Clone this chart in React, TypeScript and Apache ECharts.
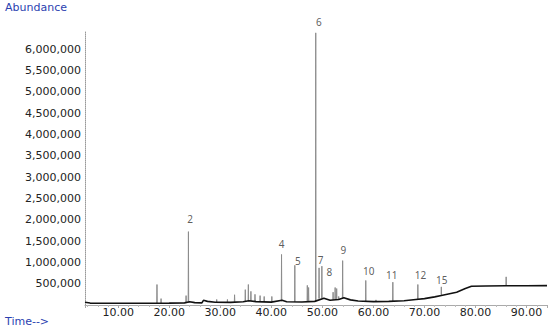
import React, { useEffect, useRef } from "react";
import * as echarts from "echarts";

// Baseline of the chromatogram: [retention time (min), abundance]
const baselinePoints: [number, number][] = [
  [3.5, 65000], [4.5, 45000], [8, 40000], [12, 40000], [16, 42000], [20, 45000],
  [23, 50000], [24.0, 75000], [25, 55000], [26.4, 50000], [26.7, 110000],
  [27.5, 85000], [29, 65000], [32, 62000], [34.5, 75000], [35.6, 100000],
  [37, 80000], [40, 68000], [42.1, 110000], [43, 75000], [46, 70000],
  [48.5, 85000], [50.3, 160000], [51.5, 110000], [53.2, 130000], [54.2, 170000],
  [55.5, 120000], [57, 95000], [60, 80000], [63, 85000], [66, 100000],
  [68.3, 129000], [70, 150000], [72, 190000], [73.3, 223000], [76.3, 300000],
  [78, 385000], [79.2, 441000], [82, 445000], [86, 450000], [90, 452000], [94, 455000],
];

// Peaks: [retention time (min), apex abundance, foot abundance]
const peaks: [number, number, number][] = [
  [17.6, 480000, 42000], [18.4, 150000, 42000], [23.3, 220000, 50000],
  [23.76, 1720000, 55000], [29.3, 130000, 65000], [31.4, 130000, 62000],
  [32.8, 240000, 65000], [34.9, 360000, 75000], [35.5, 480000, 90000],
  [36.0, 320000, 95000], [36.8, 250000, 85000], [37.8, 220000, 80000],
  [38.6, 200000, 75000], [40.1, 200000, 68000], [42.0, 1185000, 90000],
  [44.6, 930000, 72000], [47.05, 460000, 78000], [47.3, 410000, 78000],
  [48.7, 6380000, 85000], [49.35, 870000, 150000], [49.9, 910000, 160000],
  [52.1, 300000, 120000], [52.5, 410000, 125000], [52.8, 385000, 128000],
  [53.2, 200000, 130000], [53.97, 1040000, 160000], [58.5, 575000, 85000],
  [60.5, 120000, 80000], [63.8, 535000, 88000], [68.7, 480000, 132000],
  [73.3, 425000, 223000], [86.0, 660000, 450000],
];

// Peak number labels: [text, time, abundance at the label's centre]
const peakLabels: [string, number, number][] = [
  ["2", 24.1, 2007000], ["4", 42.0, 1437000], ["5", 45.2, 1037000],
  ["6", 49.3, 6640000], ["7", 49.65, 1052000], ["8", 51.35, 779000],
  ["9", 54.1, 1286000], ["10", 59.1, 793000], ["11", 63.6, 692000],
  ["12", 69.2, 700000], ["15", 73.4, 592000],
];

const FOOT = 0.05;

export default function App() {
  const ref = useRef<HTMLDivElement>(null);
  useEffect(() => {
    if (!ref.current) return;
    const chart = echarts.init(ref.current, undefined, { renderer: "svg" });
    const peakData: any[] = [];
    peaks.forEach(([t, apex, foot]) => {
      peakData.push([t - FOOT, foot], [t, apex], [t + FOOT, foot], [t + FOOT, "-"]);
    });
    const blue = "#2b3fb0";
    chart.setOption({
      animation: false,
      grid: { left: 85, right: 3, top: 32, bottom: 24 },
      xAxis: {
        type: "value",
        min: 3.5,
        max: 94,
        splitNumber: 9,
        axisLine: { lineStyle: { color: "#aaaaaa", width: 1 } },
        axisTick: { show: true, length: 3, lineStyle: { color: "#aaaaaa" } },
        minorTick: { show: true, splitNumber: 5, length: 2, lineStyle: { color: "#bbbbbb" } },
        splitLine: { show: false },
        axisLabel: {
          margin: 2,
          fontFamily: "DejaVu Sans",
          fontSize: 11,
          color: "#222",
          showMinLabel: false,
          showMaxLabel: false,
          formatter: (v: number) => (Math.abs(v % 10) < 1e-6 ? v.toFixed(2) : ""),
        },
      },
      yAxis: {
        type: "value",
        min: 0,
        max: 6400000,
        interval: 500000,
        axisLine: { show: true, lineStyle: { color: "#999999", type: "dotted", width: 1 } },
        axisTick: { show: false },
        splitLine: { show: false },
        axisLabel: {
          margin: 4,
          fontFamily: "DejaVu Sans",
          fontSize: 11,
          color: "#222",
          formatter: (v: number) =>
            v === 0 || v % 500000 !== 0 ? "" : v.toLocaleString("en-US"),
        },
      },
      graphic: [
        {
          type: "text",
          left: 5,
          top: 2,
          style: { text: "Abundance", fill: blue, font: "11px 'DejaVu Sans'" },
        },
        {
          type: "text",
          left: 5,
          top: 316,
          style: { text: "Time-->", fill: blue, font: "11px 'DejaVu Sans'" },
        },
      ],
      series: [
        {
          type: "line",
          data: peakData,
          symbol: "none",
          connectNulls: false,
          lineStyle: { color: "#8c8c8c", width: 1 },
          z: 2,
        },
        {
          type: "line",
          data: baselinePoints,
          symbol: "none",
          lineStyle: { color: "#111", width: 1.6 },
          z: 3,
        },
        {
          type: "scatter",
          data: peakLabels.map(([n, t, v]) => ({ value: [t, v], name: n })),
          symbolSize: 0,
          clip: false,
          itemStyle: { color: "#333" },
          label: {
            show: true,
            position: "inside",
            formatter: (p: any) => p.name,
            fontFamily: "Noto Sans",
            fontSize: 10,
            color: "#333",
            textBorderWidth: 0,
          },
          z: 4,
        },
      ],
    });
    return () => chart.dispose();
  }, []);
  return (
    <div
      ref={ref}
      style={{ position: "fixed", left: 0, top: 0, width: 550, height: 329, background: "#fff" }}
    />
  );
}
